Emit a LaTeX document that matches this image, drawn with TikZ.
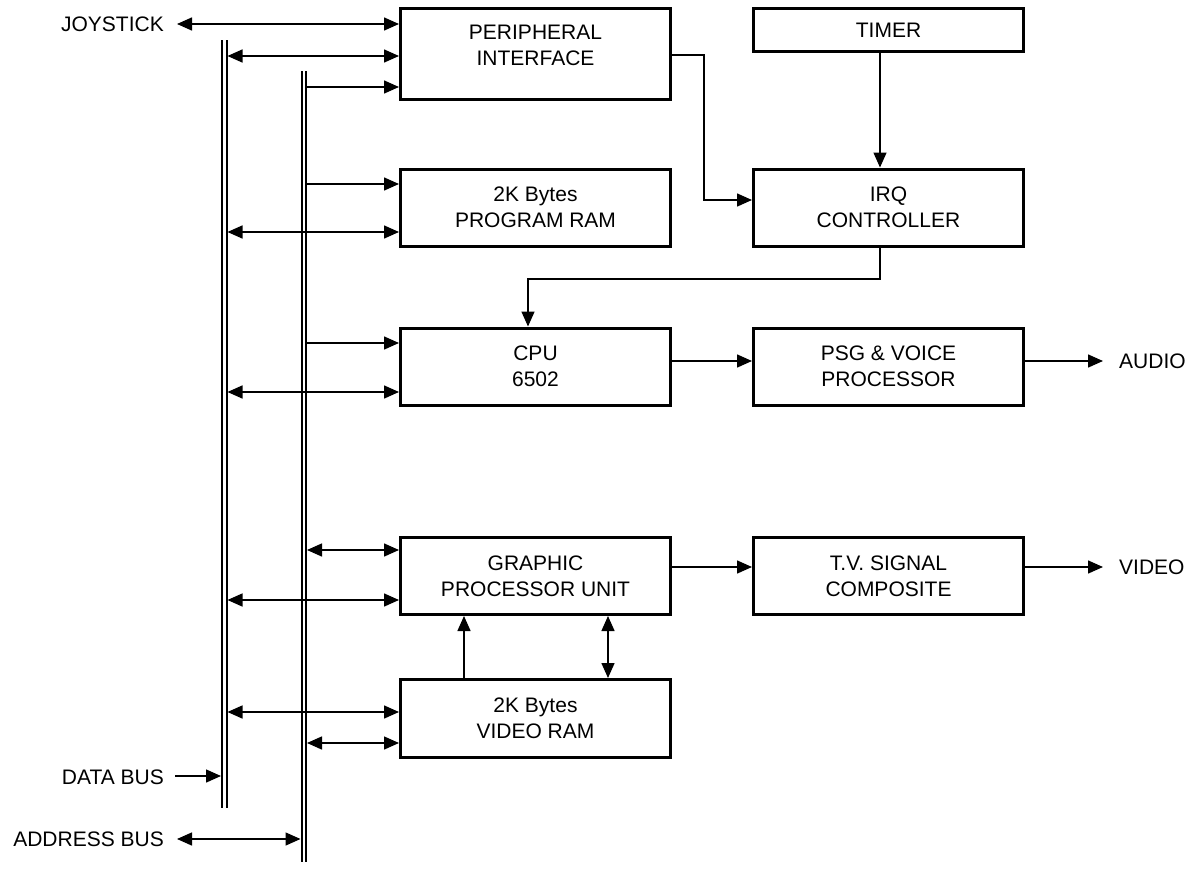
\documentclass[tikz,border=0pt]{standalone}
\usepackage{fontspec}
\setmainfont{Liberation Sans}
\usetikzlibrary{arrows.meta}
\begin{document}
\begin{tikzpicture}[x=1pt,y=-1pt,
  blk/.style={draw,line width=3pt,minimum width=270pt,minimum height=77pt,inner sep=0pt,align=center,font=\fontsize{21}{26}\selectfont},
  lbl/.style={inner sep=0pt,align=center,font=\fontsize{21}{26}\selectfont},
  tip/.tip={Triangle[length=15pt,width=13pt]},
  con/.style={line width=1.5pt,-tip},
  bicon/.style={line width=1.5pt,tip-tip},
  busline/.style={line width=2pt}]
\useasboundingbox (0,0) rectangle (1195,870);
% blocks
\node[blk,minimum height=91pt] (per) at (535.5,54) {};
\node[lbl] (perl) at (535.5,45) {PERIPHERAL\\INTERFACE};
\node[blk,minimum height=43pt] (tim) at (888.5,30) {TIMER};
\node[blk] (ram) at (535.5,207.5) {2K Bytes\\PROGRAM RAM};
\node[blk] (irq) at (888.5,207.5) {IRQ\\CONTROLLER};
\node[blk] (cpu) at (535.5,366.5) {CPU\\6502};
\node[blk] (psg) at (888.5,366.5) {PSG \& VOICE\\PROCESSOR};
\node[blk] (gpu) at (535.5,576) {GRAPHIC\\PROCESSOR UNIT};
\node[blk] (tv) at (888.5,576) {T.V. SIGNAL\\COMPOSITE};
\node[blk,minimum height=78pt] (vram) at (535.5,718.5) {2K Bytes\\VIDEO RAM};
% outside labels
\node[lbl,anchor=east] (joy) at (164,24) {JOYSTICK};
\node[lbl,anchor=east] (dlbl) at (164,777) {DATA BUS};
\node[lbl,anchor=east] (albl) at (164,839) {ADDRESS BUS};
\node[lbl,anchor=west] (aud) at (1119,361) {AUDIO};
\node[lbl,anchor=west] (vid) at (1119,567) {VIDEO};
% buses
\coordinate (dbt) at (224.25,40); \coordinate (dbb) at (224.25,808);
\coordinate (abt) at (303.75,71); \coordinate (abb) at (303.75,862);
\draw[busline] ([xshift=-2.25pt]dbt) -- ([xshift=-2.25pt]dbb);
\draw[busline] ([xshift=2.25pt]dbt) -- ([xshift=2.25pt]dbb);
\draw[busline] ([xshift=-2.25pt]abt) -- ([xshift=-2.25pt]abb);
\draw[busline] ([xshift=2.25pt]abt) -- ([xshift=2.25pt]abb);
% bus taps
\coordinate (jy) at (177,24);
\coordinate (d1) at (227.5,56);
\coordinate (a1) at (307,87);
\coordinate (a2) at (307,184);
\coordinate (d2) at (227.5,232);
\coordinate (a3) at (307,343);
\coordinate (d3) at (227.5,392);
\coordinate (a4) at (307,550);
\coordinate (d4) at (227.5,600);
\coordinate (d5) at (227.5,712);
\coordinate (a5) at (307,743);
\coordinate (din) at (175,776);
\coordinate (dend) at (221,776);
\coordinate (ain) at (177,839);
\coordinate (aend) at (300.5,839);
\draw[bicon] (jy) -- (jy -| per.west);
\draw[bicon] (d1) -- (d1 -| per.west);
\draw[con] (a1) -- (a1 -| per.west);
\draw[con] (a2) -- (a2 -| ram.west);
\draw[bicon] (d2) -- (d2 -| ram.west);
\draw[con] (a3) -- (a3 -| cpu.west);
\draw[bicon] (d3) -- (d3 -| cpu.west);
\draw[bicon] (a4) -- (a4 -| gpu.west);
\draw[bicon] (d4) -- (d4 -| gpu.west);
\draw[bicon] (d5) -- (d5 -| vram.west);
\draw[bicon] (a5) -- (a5 -| vram.west);
\draw[con] (din) -- (dend);
\draw[bicon] (ain) -- (aend);
% control connections
\coordinate (pbend) at (704,55);
\draw[con] (per.east |- pbend) -- (pbend) |- ([yshift=7.5pt]irq.west);
\draw[con] ([xshift=-8.5pt]tim.south) -- ([xshift=-8.5pt]irq.north);
\coordinate (ibend) at (528,279);
\draw[con] ([xshift=-8.5pt]irq.south) |- (ibend) -- (ibend |- cpu.north);
\draw[con] ([yshift=5.5pt]cpu.east) -- ([yshift=5.5pt]psg.west);
\draw[con] (psg.east |- aud) -- ([xshift=-16pt]aud.west);
\draw[con] (gpu.east |- vid) -- (tv.west |- vid);
\draw[con] (tv.east |- vid) -- ([xshift=-16pt]vid.west);
\draw[con] ([xshift=-71.5pt]vram.north) -- ([xshift=-71.5pt]gpu.south);
\draw[bicon] ([xshift=72.5pt]vram.north) -- ([xshift=72.5pt]gpu.south);
\end{tikzpicture}
\end{document}
